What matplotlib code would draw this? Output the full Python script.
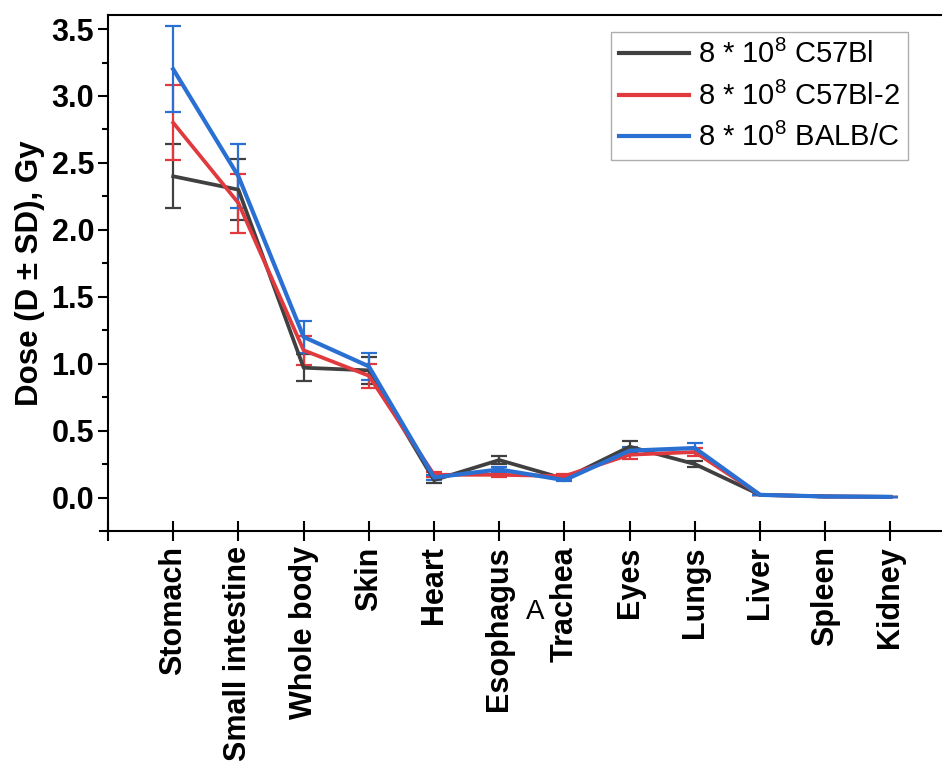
import matplotlib
matplotlib.use("Agg")
import matplotlib.pyplot as plt
from matplotlib.lines import Line2D
import numpy as np

categories = ["Stomach", "Small intestine", "Whole body", "Skin", "Heart", "Esophagus",
              "Trachea", "Eyes", "Lungs", "Liver", "Spleen", "Kidney"]

c57_mean = [2.40, 2.30, 0.97, 0.95, 0.13, 0.28, 0.14, 0.38, 0.25, 0.020, 0.008, 0.005]
c57_sd   = [0.24, 0.23, 0.10, 0.10, 0.02, 0.03, 0.01, 0.04, 0.025, 0.002, 0.001, 0.001]
c572_mean = [2.80, 2.20, 1.10, 0.91, 0.17, 0.17, 0.16, 0.32, 0.34, 0.020, 0.008, 0.005]
c572_sd   = [0.28, 0.22, 0.11, 0.09, 0.02, 0.02, 0.015, 0.03, 0.03, 0.002, 0.001, 0.001]
balb_mean = [3.20, 2.40, 1.20, 0.98, 0.15, 0.21, 0.13, 0.35, 0.37, 0.020, 0.008, 0.005]
balb_sd   = [0.32, 0.24, 0.12, 0.10, 0.02, 0.02, 0.01, 0.03, 0.04, 0.002, 0.001, 0.001]

labels = [r"8 * 10$^{8}$ C57Bl", r"8 * 10$^{8}$ C57Bl-2", r"8 * 10$^{8}$ BALB/C"]
colors = ["#404040", "#e0393e", "#2a6fd2"]

plt.rcParams['font.family'] = ['Liberation Sans', 'DejaVu Sans']
plt.rcParams['mathtext.fontset'] = 'custom'
plt.rcParams['mathtext.rm'] = 'Liberation Sans'

fig = plt.figure(figsize=(9.42, 7.65), dpi=100)
ax = fig.add_axes([108/942, 1-531/765, 1-108/942, (531-15)/765])

x = np.arange(1, len(categories) + 1)
series = [(c57_mean, c57_sd), (c572_mean, c572_sd), (balb_mean, balb_sd)]
lws = [2.7, 2.7, 3.0]
handles = []
for (m, s), lab, col, lw in zip(series, labels, colors, lws):
    ax.errorbar(x, m, yerr=s, color=col, lw=lw, elinewidth=1.6, capsize=5.5,
                capthick=1.6)
    handles.append(Line2D([], [], color=col, lw=3, label=lab))

ax.set_xlim(0, 12.79)
ax.set_ylim(-0.25, 3.605)
ax.set_xticks(np.arange(0, len(categories) + 1))
ax.set_xticklabels([""] + categories, rotation=90, fontsize=22, fontweight='bold')
ax.set_yticks(np.arange(0, 3.51, 0.5))
ax.set_yticklabels([f"{v:.1f}" for v in np.arange(0, 3.51, 0.5)], fontsize=22, fontweight='bold')
ax.set_yticks(np.arange(0.25, 3.6, 0.5), minor=True)
ax.tick_params(axis='x', direction='inout', length=14, width=1.5, pad=4)
ax.tick_params(axis='y', which='major', direction='out', length=7, width=1.5, pad=3)
ax.tick_params(axis='y', which='minor', direction='out', length=4, width=1.5)
ax.spines['right'].set_visible(False)
for sp in ['left', 'bottom', 'top']:
    ax.spines[sp].set_linewidth(1.5)
ax.set_ylabel("Dose (D ± SD), Gy", fontsize=22.5, fontweight='bold', labelpad=5)

# small extension of bottom axis line to the left
ax.plot([-0.01, 0], [0, 0], transform=ax.transAxes, color='black', lw=1.5, clip_on=False)

leg = ax.legend(handles=handles, loc='upper right',
                bbox_to_anchor=((908-108)/834, (531-32)/516),
                fontsize=21, frameon=True, fancybox=False, handlelength=2.4,
                borderpad=0.28, labelspacing=0.42, handletextpad=0.3, borderaxespad=0)
leg.get_frame().set_edgecolor('#999999')
leg.get_frame().set_linewidth(1.0)

fig.text(535/942, 1-612/765, "A", fontsize=20, ha='center', va='center')

fig.savefig("out.png", dpi=100)
